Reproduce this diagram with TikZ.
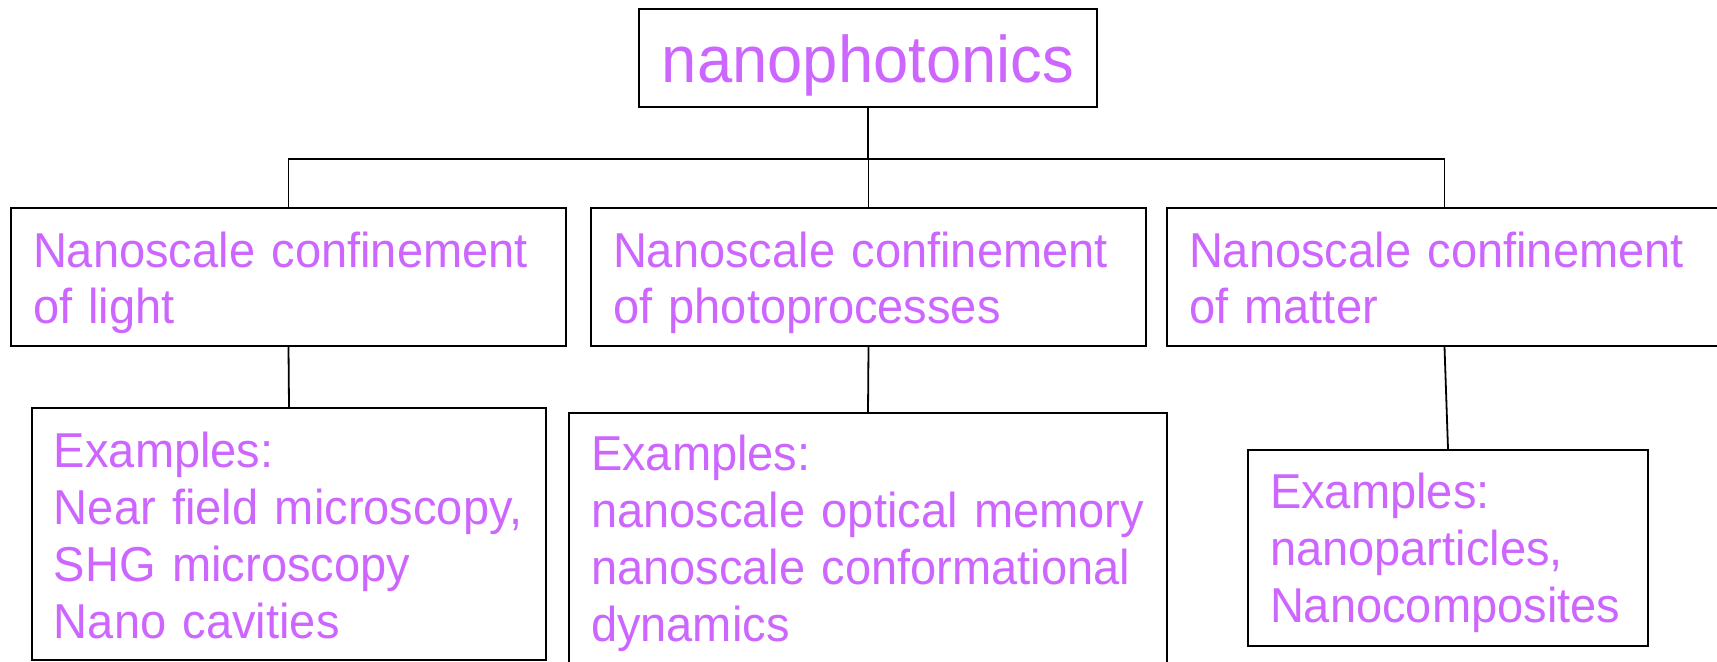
\documentclass[tikz,border=0pt]{standalone}
\usepackage{fontspec}
\setmainfont[FakeStretch=0.96]{Liberation Sans}
\definecolor{nanoviolet}{HTML}{CC66FF}

\begin{document}
\begin{tikzpicture}[x=0.5pt, y=-0.5pt,
    box/.style={draw, line width=1pt, rectangle, text=nanoviolet,
      inner xsep=11pt, inner ysep=0pt, align=left,
      font=\fontsize{24.5}{28.5}\selectfont},
    link/.style={line width=0.9pt}]
  \useasboundingbox (0,0) rectangle (1717,661);

  % Root
  \node[box, align=center, minimum width=229pt, text height=36.5pt,
    text depth=12.5pt, font=\fontsize{33}{38}\selectfont] (nano) at (868,58)
    {nanophotonics};

  % Kinds of confinement
  \node[box, text width=255.5pt, text height=29.5pt, text depth=39.5pt,
    font=\fontsize{24.5}{28}\selectfont] (light) at (288.5,277)
    {Nanoscale confinement\\of light};
  \node[box, text width=255.5pt, text height=29.5pt, text depth=39.5pt,
    font=\fontsize{24.5}{28}\selectfont] (photo) at (868.5,277)
    {Nanoscale confinement\\of photoprocesses};
  \node[box, text width=255.5pt, text height=29.5pt, text depth=39.5pt,
    font=\fontsize{24.5}{28}\selectfont] (matter) at (1444.5,277)
    {Nanoscale confinement\\of matter};

  % Examples under each
  \node[box, text width=235pt, text height=29.5pt, text depth=96.5pt]
    (lightex) at (289,534)
    {Examples:\\Near field microscopy,\\SHG microscopy\\Nano cavities};
  \node[box, text width=277pt, text height=28.5pt, text depth=96.5pt]
    (photoex) at (868,538)
    {Examples:\\nanoscale optical memory\\nanoscale conformational\\dynamics};
  \node[box, text width=178pt, text height=29pt, text depth=69pt]
    (matterex) at (1448,548)
    {Examples:\\nanoparticles,\\Nanocomposites};

  % Tree lines
  \coordinate (bus) at (868,159);
  \draw[link] (nano.south) -- (nano.south |- bus);
  \draw[link] (light.north) -- (light.north |- bus)
    -- (matter.north |- bus) -- (matter.north);
  \draw[link] (photo.north) -- (photo.north |- bus);
  \draw[link] (light.south) -- (lightex.north);
  \draw[link] (photo.south) -- (photoex.north);
  \draw[link] (matter.south) -- (matterex.north);
\end{tikzpicture}
\end{document}
